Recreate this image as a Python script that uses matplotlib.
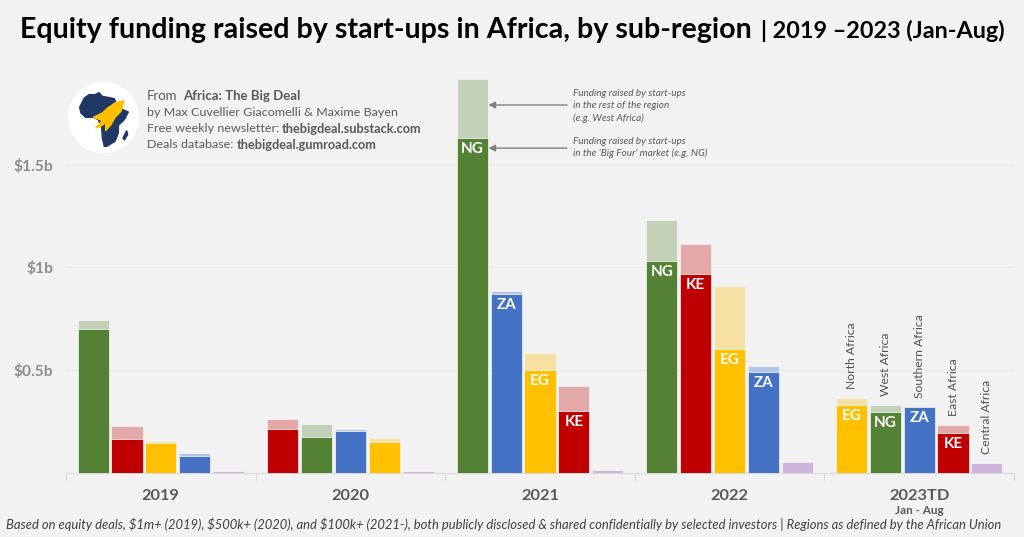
import matplotlib
matplotlib.use('Agg')
import matplotlib.pyplot as plt
from matplotlib.patches import Circle, Polygon
import numpy as np

plt.rcParams['font.family'] = ['Lato', 'DejaVu Sans']

# Data ------------------------------------------------------------------------
years = ['2019', '2020', '2021', '2022', '2023TD']

# each year is listed in the order of its bars, left to right (values in $b)
regions_2019 = ['West', 'East', 'North', 'South', 'Central']
core_2019 = [0.70, 0.163, 0.144, 0.08, 0.0]
total_2019 = [0.743, 0.227, 0.153, 0.095, 0.008]

regions_2020 = ['East', 'West', 'South', 'North', 'Central']
core_2020 = [0.21, 0.173, 0.202, 0.149, 0.0]
total_2020 = [0.263, 0.236, 0.212, 0.168, 0.008]

regions_2021 = ['West', 'South', 'North', 'East', 'Central']
core_2021 = [1.63, 0.87, 0.50, 0.30, 0.0]
total_2021 = [1.917, 0.884, 0.582, 0.42, 0.012]

regions_2022 = ['West', 'East', 'North', 'South', 'Central']
core_2022 = [1.03, 0.967, 0.60, 0.49, 0.0]
total_2022 = [1.23, 1.113, 0.908, 0.519, 0.05]

regions_2023 = ['North', 'West', 'South', 'East', 'Central']
core_2023 = [0.329, 0.295, 0.319, 0.192, 0.0]
total_2023 = [0.363, 0.329, 0.319, 0.231, 0.046]

all_regions = [regions_2019, regions_2020, regions_2021, regions_2022, regions_2023]
all_core = [core_2019, core_2020, core_2021, core_2022, core_2023]
all_total = [total_2019, total_2020, total_2021, total_2022, total_2023]

colors = {'West': '#548235', 'East': '#C00000', 'North': '#FFC000',
          'South': '#4472C4', 'Central': '#CDB5DE'}
light = {'West': '#C3D1B8', 'East': '#E4A8A8', 'North': '#F7E0A3',
         'South': '#B4C6E7', 'Central': '#CDB5DE'}
codes = {'West': 'NG', 'East': 'KE', 'North': 'EG', 'South': 'ZA'}

region_names = {'North': 'North Africa', 'West': 'West Africa', 'South': 'Southern Africa',
                'East': 'East Africa', 'Central': 'Central Africa'}

# Figure ----------------------------------------------------------------------
W, H = 1024, 537
BG = '#F2F2F2'
GREY = '#595959'
fig = plt.figure(figsize=(W / 100, H / 100), dpi=100, facecolor=BG)

# axes spans the five year groups, y scale: 205.3 px per $1b
ax = fig.add_axes([66 / W, 1 - 472.5 / H, (1014 - 66) / W, 412.5 / H])
ax.set_facecolor(BG)
ax.set_xlim(0, 5)
ax.set_ylim(0, 412.5 / 205.3)

pitch = 0.1785
width = 0.164

for i in range(len(years)):
    xs = i + 0.5 + (np.arange(5) - 2) * pitch
    for j, region in enumerate(all_regions[i]):
        core = all_core[i][j]
        total = all_total[i][j]
        ax.bar(xs[j], total - core, width, bottom=core, color=light[region],
               edgecolor='#F7F7F7', linewidth=0.5, zorder=3)
        if core > 0:
            ax.bar(xs[j], core, width, color=colors[region],
                   edgecolor='#F7F7F7', linewidth=0.5, zorder=3)
        # the bars with a country code on them
        if i >= 2 and region in codes:
            ax.text(xs[j], core - 0.054, codes[region], color='white',
                    fontsize=11, fontweight='bold', ha='center', va='center', zorder=4)
        # region names above the last group
        if i == 4:
            ax.text(xs[j], total + 0.043, region_names[region], color='#505050', fontsize=8.7,
                    rotation=90, ha='center', va='bottom', zorder=4)

ax.set_yticks([0.5, 1, 1.5])
ax.set_yticklabels(['$0.5b', '$1b', '$1.5b'], color='#8C8C8C', fontsize=11.2, fontweight='bold')
ax.tick_params(axis='y', length=0, pad=9)
ax.grid(axis='y', color='#EBEBEB', linewidth=0.9, zorder=0)
ax.set_axisbelow(True)

ax.set_xticks(np.arange(6))
ax.set_xticklabels([])
ax.tick_params(axis='x', length=5, color='#D9D9D9', width=1)
for side in ['top', 'left', 'right']:
    ax.spines[side].set_visible(False)
ax.spines['bottom'].set_color('#D9D9D9')

for i, year in enumerate(years):
    ax.text(i + 0.5, -0.115, year, color=GREY, fontsize=11.8, fontweight='bold',
            ha='center', va='center')
ax.text(4.5, -0.187, 'Jan - Aug', color=GREY, fontsize=8.5, fontweight='bold',
        ha='center', va='center')

# Arrows and notes next to the 2021 bar ---------------------------------------
bar_edge = 2.5 - 2 * pitch + width / 2
for val in [1.79, 1.58]:
    ax.annotate('', xy=(bar_edge + 0.003, val), xytext=(567 / 189.6 - 66 / 189.6, val),
                arrowprops=dict(arrowstyle='-|>', color='#808080', lw=1, shrinkA=0, shrinkB=0),
                zorder=5)


def px_text(x, y, s, **kw):
    # place text with pixel coordinates measured from the top left
    return fig.text(x / W, 1 - y / H, s, va='center', **kw)


note = dict(color=GREY, fontsize=7.2, style='italic')
px_text(573, 94, 'Funding raised by start-ups', **note)
px_text(573, 106, 'in the rest of the region', **note)
px_text(573, 118, '(e.g. West Africa)', **note)
px_text(573, 141, 'Funding raised by start-ups', **note)
px_text(573, 153, "in the \u2018Big Four\u2019 market (e.g. NG)", **note)

# Title -----------------------------------------------------------------------
px_text(20, 30, 'Equity funding raised by start-ups in Africa, by sub-region',
        color='black', fontsize=20.6, fontweight='bold')
px_text(761, 31, '| 2019 \u20132023 (Jan-Aug)', color='black', fontsize=16.8, fontweight='bold')

# Source block ----------------------------------------------------------------
src = dict(color=GREY, fontsize=8.97)
bold = dict(color=GREY, fontsize=9.2, fontweight='bold')
px_text(147, 96, 'From', color=GREY, fontsize=9.5)
px_text(183, 96, 'Africa: The Big Deal', color=GREY, fontsize=9.5, fontweight='bold')
px_text(147, 113, 'by Max Cuvellier Giacomelli & Maxime Bayen', **src)
px_text(147, 129, 'Free weekly newsletter:', **src)
px_text(282, 129, 'thebigdeal.substack.com', **bold)
px_text(147, 145, 'Deals database:', **src)
px_text(237, 145, 'thebigdeal.gumroad.com', **bold)

# Logo, drawn on its own pixel axes -------------------------------------------
logo = fig.add_axes([0, 0, 1, 1], facecolor='none')
logo.set_xlim(0, W)
logo.set_ylim(H, 0)
logo.axis('off')
logo.add_patch(Circle((103.5, 117.5), 35, color='white', zorder=1))


def crop_pts(pts):
    return np.array(pts) / 3 + [65, 78]


africa = [(44, 88), (58, 60), (72, 50), (90, 50), (102, 44), (112, 55), (128, 58), (148, 62),
          (158, 88), (190, 102), (178, 125), (160, 142), (160, 165), (150, 190), (125, 205),
          (118, 205), (112, 180), (110, 150), (100, 125), (85, 118), (62, 118), (48, 105)]
madagascar = [(185, 158), (188, 170), (178, 186), (174, 180)]
rocket = [(177, 68), (150, 75), (128, 90), (112, 105), (85, 118), (100, 123), (112, 128), (92, 150),
          (112, 142), (122, 132), (122, 158), (138, 140), (150, 118), (168, 100)]
logo.add_patch(Polygon(crop_pts(africa), closed=True, color='#1F3864', zorder=2))
logo.add_patch(Polygon(crop_pts(madagascar), closed=True, color='#1F3864', zorder=2))
logo.add_patch(Polygon(crop_pts(rocket), closed=True, color='#FFC000', zorder=3))

# Footnote --------------------------------------------------------------------
px_text(6, 524, 'Based on equity deals, $1m+ (2019), $500k+ (2020), and $100k+ (2021-), both publicly '
        'disclosed & shared confidentially by selected investors | Regions as defined by the African Union',
        color='#404040', fontsize=9.37, style='italic')

fig.savefig('out.png', dpi=100, facecolor=BG)
